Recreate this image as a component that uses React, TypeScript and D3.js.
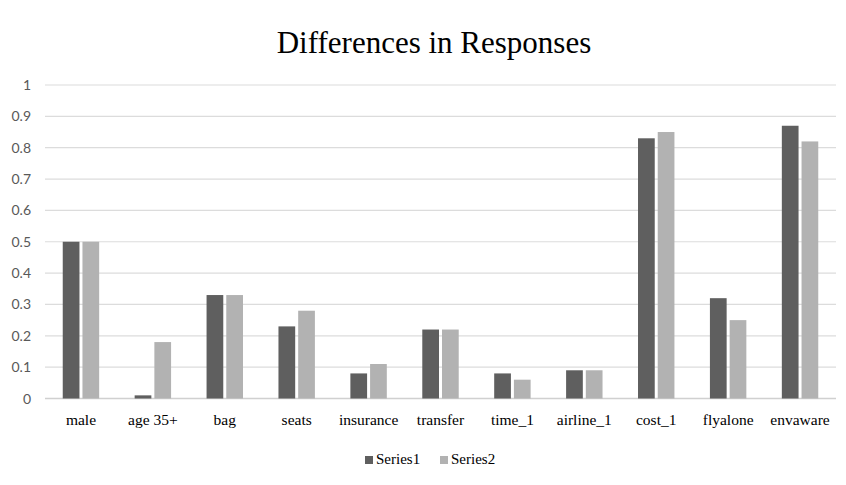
import React from "react";
import * as d3 from "d3";

const categories = ["male", "age 35+", "bag", "seats", "insurance", "transfer", "time_1", "airline_1", "cost_1", "flyalone", "envaware"];
const series1 = [0.5, 0.01, 0.33, 0.23, 0.08, 0.22, 0.08, 0.09, 0.83, 0.32, 0.87];
const series2 = [0.5, 0.18, 0.33, 0.28, 0.11, 0.22, 0.06, 0.09, 0.85, 0.25, 0.82];
const seriesNames = ["Series1", "Series2"];
const seriesColors = ["#5f5f5f", "#b2b2b2"];
const yTicks = [0, 0.1, 0.2, 0.3, 0.4, 0.5, 0.6, 0.7, 0.8, 0.9, 1];
const title = "Differences in Responses";

export default function App() {
  const W = 846, H = 485;
  const left = 45, right = 836, top = 85, bottom = 398.5;
  const x = d3.scaleBand<string>().domain(categories).range([left, right]);
  const y = d3.scaleLinear().domain([0, 1]).range([bottom, top]);
  const inner = d3.scaleBand<number>().domain([0, 1]).range([0, x.bandwidth()]).paddingInner(0.152).paddingOuter(0.9);
  const all = [series1, series2];
  const serif = "'Times New Roman', Times, 'Liberation Serif', Tinos, 'Noto Serif', 'DejaVu Serif', FreeSerif, serif";
  const sans = "Lato, 'Open Sans', sans-serif";
  return (
    <svg width={W} height={H} style={{ position: "absolute", left: 0, top: 0, background: "#fff" }}>
      <text x={434} y={53} textAnchor="middle" style={{ fontFamily: serif, fontSize: "31px" }} fill="#000">{title}</text>
      {yTicks.map((t) => (
        <g key={t}>
          <line x1={left} x2={right} y1={y(t)} y2={y(t)} stroke={t === 0 ? "#d0d0d0" : "#dcdcdc"} strokeWidth={t === 0 ? 1.5 : 1.2} />
          <text x={31} y={y(t) + 5} textAnchor="end" style={{ fontFamily: sans, fontSize: "14px" }} fill="#595959">{d3.format("")(t)}</text>
        </g>
      ))}
      {categories.map((c, i) => (
        <g key={c}>
          {all.map((s, k) => (
            <rect key={k} x={(x(c) as number) + (inner(k) as number)} width={inner.bandwidth()} y={y(s[i])} height={bottom - y(s[i])} fill={seriesColors[k]} />
          ))}
          <text x={(x(c) as number) + x.bandwidth() / 2} y={425} textAnchor="middle" style={{ fontFamily: serif, fontSize: "15.5px" }} fill="#000">{c}</text>
        </g>
      ))}
      {seriesNames.map((n, k) => (
        <g key={n} transform={`translate(${365 + k * 75},0)`}>
          <rect x={0} y={456} width={8} height={8} fill={seriesColors[k]} />
          <text x={11} y={463.5} style={{ fontFamily: serif, fontSize: "15px" }} fill="#000">{n}</text>
        </g>
      ))}
    </svg>
  );
}
